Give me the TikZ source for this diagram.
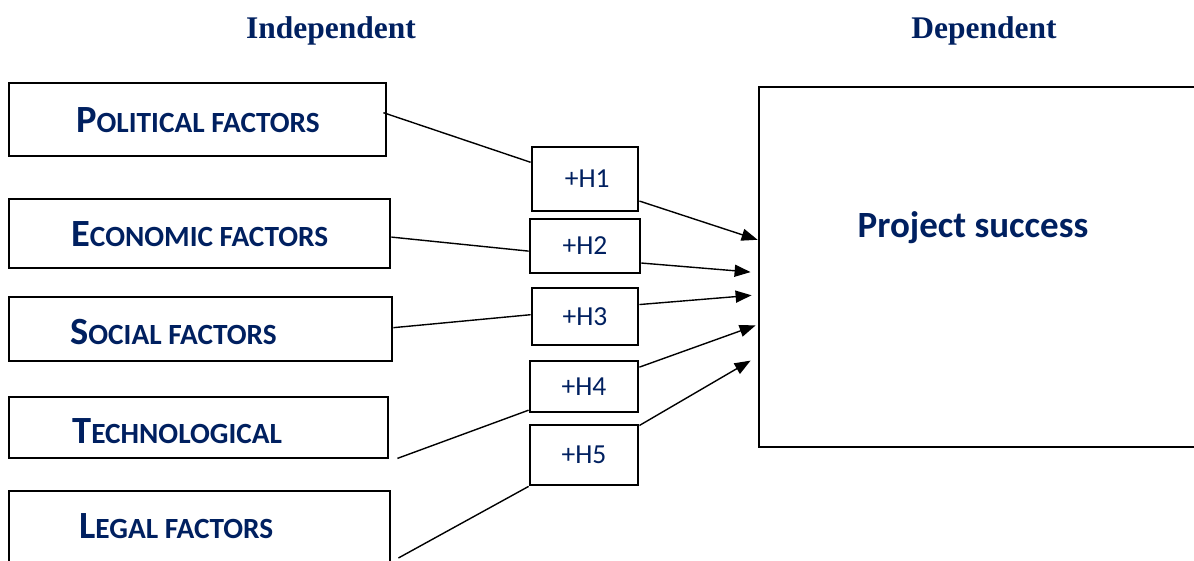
\documentclass[tikz,border=0pt]{standalone}
\usepackage{fontspec}
\setmainfont{Carlito}
\newfontfamily\titlefont{Liberation Serif}
\usetikzlibrary{arrows.meta,calc}
\definecolor{navy}{RGB}{0,32,96}
\newcommand\fcap[2]{{\fontsize{38.5}{40}\selectfont #1}{\fontsize{29.3}{30}\selectfont #2}}
\begin{document}
\begin{tikzpicture}[x=1pt,y=-1pt,
 box/.style={draw,line width=2.8pt,inner sep=0pt},
 lbl/.style={text=navy,font=\bfseries,inner sep=0pt,anchor=base west},
 hbox/.style={draw,line width=2.8pt,inner sep=0pt,text=navy,font=\fontsize{27.5}{30}\selectfont},
 conn/.style={line width=1.4pt},
 arr/.style={conn,-{Triangle[length=16pt,width=12pt]}},
 ttl/.style={text=navy,font=\titlefont\bfseries\fontsize{31.5}{34}\selectfont,inner sep=0pt,anchor=base}]
\useasboundingbox (0,0) rectangle (1194,560);
\clip (0,0) rectangle (1194,560);
\fill[white] (0,0) rectangle (1194,560);

% titles
\node[ttl] (tind) at (331,38) {Independent};
\node[ttl] (tdep) at (984,38) {Dependent};

% factor boxes
\node[box,minimum width=377pt,minimum height=73pt] (pol) at (197.5,119.5) {};
\node[box,minimum width=381pt,minimum height=69pt] (eco) at (199.5,233.5) {};
\node[box,minimum width=383pt,minimum height=64pt] (soc) at (200.5,329) {};
\node[box,minimum width=379pt,minimum height=61pt] (tec) at (198.5,427.5) {};
\node[box,minimum width=381pt,minimum height=129pt] (leg) at (199.5,555.5) {};

\node[lbl] (polt) at (76,132) {\fcap{P}{OLITICAL FACTORS}};
\node[lbl] (ecot) at (71,246) {\fcap{E}{CONOMIC FACTORS}};
\node[lbl] (soct) at (70,344) {\fcap{S}{OCIAL FACTORS}};
\node[lbl] (tect) at (72,443) {\fcap{T}{ECHNOLOGICAL}};
\node[lbl] (legt) at (79,538) {\fcap{L}{EGAL FACTORS}};

% hypothesis boxes
\node[hbox,minimum width=106pt,minimum height=64pt] (h1) at (585,179) {\,+H1};
\node[hbox,minimum width=110pt,minimum height=54pt] (h2) at (585,246) {+H2};
\node[hbox,minimum width=106pt,minimum height=57pt] (h3) at (585,316.5) {+H3};
\node[hbox,minimum width=108pt,minimum height=51pt] (h4) at (584,386.5) {+H4};
\node[hbox,minimum width=108pt,minimum height=60pt] (h5) at (584,455) {+H5};

% dependent box
\node[box,minimum width=471pt,minimum height=360pt] (ps) at (994.5,267) {};
\node[text=navy,font=\bfseries\fontsize{37}{40}\selectfont,inner sep=0pt,anchor=base] (pst) at (973,237) {Project success};

% arrow tips
\coordinate (t1) at ($(ps.north west)!0.425!(ps.south west)$);
\coordinate (t2) at ($(ps.north west)!0.514!(ps.south west)+(-7,0)$);
\coordinate (t3) at ($(ps.north west)!0.578!(ps.south west)+(-6,0)$);
\coordinate (t4) at ($(ps.north west)!0.661!(ps.south west)+(-2,0)$);
\coordinate (t5) at ($(ps.north west)!0.758!(ps.south west)+(-7,0)$);

% free starts
\coordinate (st) at ($(tec.south east)+(8,-1)$);
\coordinate (sl) at ($(leg.east)+(7,2.5)$);

% connectors into H boxes
\draw[conn] ($(pol.north east)!0.41!(pol.south east)+(-4,0)$) -- ($(h1.north west)!0.25!(h1.south west)$);
\draw[conn] ($(eco.north east)!0.55!(eco.south east)$) -- ($(h2.north west)!0.59!(h2.south west)$);
\draw[conn] ($(soc.north east)!0.48!(soc.south east)$) -- ($(h3.north west)!0.47!(h3.south west)$);
\draw[conn] (st) -- ($(h4.north west)!0.94!(h4.south west)$);
\draw[conn] (sl) -- (h5.south west);

% arrows to dependent
\draw[arr] ($(h1.north east)!0.83!(h1.south east)$) -- (t1);
\draw[arr] ($(h2.north east)!0.8!(h2.south east)$) -- (t2);
\draw[arr] ($(h3.north east)!0.3!(h3.south east)$) -- (t3);
\draw[arr] ($(h4.north east)!0.14!(h4.south east)$) -- (t4);
\draw[arr] ($(h5.north east)!0.03!(h5.south east)$) -- (t5);
\end{tikzpicture}
\end{document}
